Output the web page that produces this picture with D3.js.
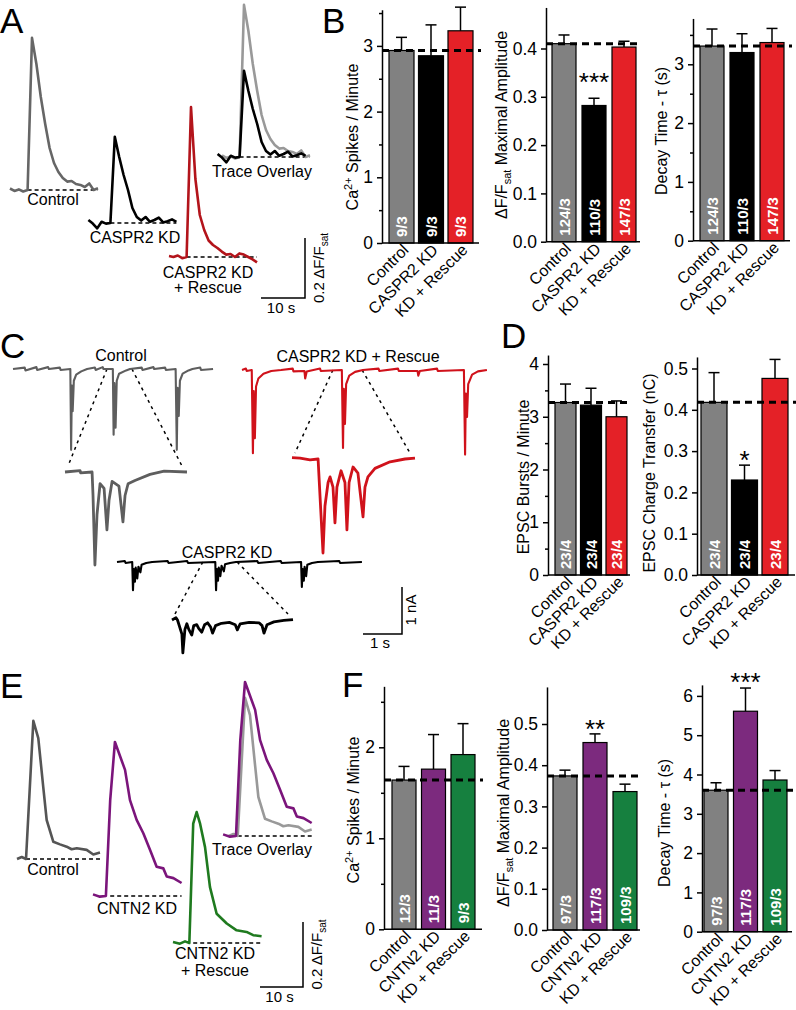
<!DOCTYPE html>
<html><head><meta charset="utf-8">
<script src="https://cdn.jsdelivr.net/npm/d3@7"></script>
<style>
body{margin:0;background:#fff;}
svg{display:block;font-family:"Liberation Sans",Arial,sans-serif;}
</style></head><body>
<script>
// ---------------- DATA ----------------
const groupsCaspr = ["Control", "CASPR2 KD", "KD + Rescue"];
const groupsCntn = ["Control", "CNTN2 KD", "KD + Rescue"];

// Panel B
const spikesB = [2.93, 2.85, 3.23];
const spikesBErr = [0.20, 0.47, 0.36];
const spikesBN = ["9/3", "9/3", "9/3"];
const ampB = [0.410, 0.282, 0.403];
const ampBErr = [0.018, 0.015, 0.012];
const ampBN = ["124/3", "110/3", "147/3"];
const ampBSig = ["", "***", ""];
const decayB = [3.31, 3.20, 3.37];
const decayBErr = [0.29, 0.32, 0.24];
const decayBN = ["124/3", "110/3", "147/3"];

// Panel D
const burstsD = [3.27, 3.22, 3.00];
const burstsDErr = [0.35, 0.32, 0.30];
const burstsDN = ["23/4", "23/4", "23/4"];
const chargeD = [0.418, 0.230, 0.476];
const chargeDErr = [0.072, 0.036, 0.046];
const chargeDN = ["23/4", "23/4", "23/4"];
const chargeDSig = ["", "*", ""];

// Panel F
const spikesF = [1.64, 1.76, 1.92];
const spikesFErr = [0.15, 0.38, 0.34];
const spikesFN = ["12/3", "11/3", "9/3"];
const ampF = [0.374, 0.455, 0.336];
const ampFErr = [0.014, 0.021, 0.018];
const ampFN = ["97/3", "117/3", "109/3"];
const ampFSig = ["", "**", ""];
const decayF = [3.60, 5.61, 3.86];
const decayFErr = [0.19, 0.59, 0.24];
const decayFN = ["97/3", "117/3", "109/3"];
const decayFSig = ["", "***", ""];

// Panel A Ca2+ traces: [time (s), dF/Fsat]
const caControlA = [[0,0.005],[1,-0.003],[2,0.002],[3,-0.005],[4,0],[5,0.507],[6,0.42],[7,0.31],[8,0.22],[9,0.14],[10,0.09],[11,0.06],[12,0.04],[13,0.028],[14,0.03],[15,0.02],[16,0.017],[17,0.01],[18,0.022],[19,0],[20,0.006]];
const caKdA = [[0,0.01],[1,-0.002],[2,-0.018],[3,0.004],[4,-0.002],[5,0],[6,0.287],[7,0.22],[8,0.16],[9,0.11],[10,0.05],[11,0.02],[12,0.008],[13,0.02],[14,0.004],[15,0.01],[16,0.018],[17,0.002],[18,0.006],[19,0.012],[20,0.004]];
const caRescueA = [[0,0.003],[1,0],[2,0.005],[3,-0.004],[4,0],[5,0.5],[6,0.26],[7,0.14],[8,0.09],[9,0.055],[10,0.04],[11,0.03],[12,0.018],[13,0.008],[14,0.01],[15,0],[16,0.012],[17,0.008],[18,0],[19,-0.008],[20,-0.018]];

// Panel E Ca2+ traces
const caControlE = [[0,0],[1.1,0.006],[2.1,0],[3.8,0.425],[4.95,0.372],[6.1,0.222],[6.9,0.12],[8.45,0.053],[10,0.045],[11.55,0.038],[12.7,0.03],[13.9,0.033],[16.2,0.028],[17.75,0.014],[19.3,0.02]];
const caKdE = [[0,0.005],[1.6,-0.002],[3.0,0],[4.0,0.295],[5.1,0.474],[6.3,0.43],[7.45,0.388],[8.6,0.295],[10.15,0.234],[11.7,0.193],[13.25,0.142],[14.8,0.09],[16.35,0.085],[17.15,0.06],[18.7,0.055],[20.6,0.04]];
const caRescueE = [[0,0.003],[1.6,-0.002],[2.8,0.005],[3.8,0],[4.7,0.367],[5.5,0.403],[6.3,0.367],[7.45,0.295],[8.6,0.172],[10.15,0.09],[12.5,0.06],[14.8,0.039],[17.1,0.034],[18.65,0.024],[20.6,0.021]];

// Panel C EPSC traces: overview [time (s), current (nA)], insets [time (ms), current (nA)]
const epscControl = [[0,0],[0.3,0.03],[0.32,-0.03],[0.6,0.04],[0.62,-0.02],[0.9,0.04],[0.92,0],[1.2,0.03],[1.22,-0.02],[1.47,0],[1.49,-1.72],[1.51,-0.35],[1.53,-0.9],[1.56,-0.25],[1.62,-0.12],[1.75,-0.05],[1.9,0],[2.1,0.03],[2.12,-0.02],[2.3,0.04],[2.32,0],[2.56,0],[2.58,-1.4],[2.6,-0.3],[2.63,-1.25],[2.66,-0.25],[2.72,-0.1],[2.9,-0.03],[3.0,0],[3.3,0.03],[3.32,-0.02],[3.6,0.04],[3.62,0],[3.9,0.03],[3.92,-0.02],[4.17,0],[4.2,-1.72],[4.22,-0.4],[4.25,-1.0],[4.28,-0.25],[4.35,-0.1],[4.5,-0.03],[4.6,0],[4.8,0.03],[4.82,-0.02],[5.13,0]];
const epscRescue = [[0,0],[0.1,0.03],[0.12,-0.02],[0.25,0],[0.28,-1.77],[0.3,-0.45],[0.33,-1.45],[0.36,-0.35],[0.42,-0.18],[0.55,-0.08],[0.75,-0.02],[1.0,0],[1.3,0.03],[1.32,-0.03],[1.6,-0.02],[1.62,-0.18],[1.66,-0.03],[2.0,0.03],[2.02,-0.02],[2.56,0],[2.59,-1.66],[2.61,-0.4],[2.64,-1.15],[2.67,-0.3],[2.75,-0.12],[2.9,-0.04],[3.1,0],[3.5,0.03],[3.52,-0.02],[4.0,0.03],[4.02,-0.02],[4.5,-0.02],[4.52,-0.12],[4.56,-0.02],[5.0,0.03],[5.02,-0.02],[5.69,0],[5.72,-1.8],[5.74,-0.5],[5.77,-1.0],[5.8,-0.3],[5.9,-0.1],[6.05,-0.03],[6.28,0]];
const epscKd = [[0,0],[0.2,0.02],[0.22,-0.02],[0.39,0],[0.41,-0.6],[0.43,-0.15],[0.46,-0.42],[0.48,-0.12],[0.52,-0.35],[0.55,-0.1],[0.6,-0.22],[0.63,-0.06],[0.75,-0.02],[0.9,0],[1.3,0.02],[1.32,-0.02],[1.8,0.02],[1.82,-0.02],[2.52,0],[2.54,-0.6],[2.56,-0.15],[2.59,-0.4],[2.61,-0.12],[2.65,-0.3],[2.68,-0.08],[2.74,-0.2],[2.77,-0.05],[2.9,-0.02],[3.05,0],[3.6,0.02],[3.62,-0.02],[4.2,0.02],[4.22,-0.02],[4.72,0],[4.74,-0.53],[4.76,-0.15],[4.79,-0.4],[4.81,-0.1],[4.85,-0.3],[4.88,-0.06],[5.0,-0.02],[5.15,0],[5.7,0.02],[5.72,-0.02],[6.28,0]];
const windowControl = [2.41, 3.05];
const windowRescue = [2.33, 3.08];
const windowKd = [2.20, 3.08];
const insetControl = [[0,0],[79,0.03],[82,-0.02],[142,0],[147,-0.5],[157,-1.98],[168,-0.9],[184,-0.25],[205,-0.35],[220,-1.23],[231,-0.6],[247,-0.2],[283,-0.3],[304,-1.06],[315,-0.5],[331,-0.25],[367,-0.18],[446,-0.05],[520,0.02],[640,0]];
const insetRescue = [[0,0.03],[49,0.02],[110,-0.02],[159,0],[171,-0.8],[189,-2.0],[201,-1.0],[220,-0.5],[232,-0.38],[250,-0.6],[262,-1.36],[274,-0.6],[299,-0.25],[323,-0.5],[335,-1.51],[348,-0.5],[372,-0.17],[402,-0.3],[433,-1.23],[445,-0.6],[463,-0.38],[506,-0.2],[598,-0.06],[689,0],[750,0.02]];
const insetKd = [[0,0],[29,0.05],[40,0],[72,-0.3],[79,-0.7],[94,-0.2],[108,-0.08],[122,-0.2],[144,-0.32],[158,-0.12],[180,-0.1],[194,-0.18],[216,-0.26],[237,-0.1],[259,-0.06],[281,-0.15],[295,-0.28],[317,-0.12],[360,-0.07],[417,-0.05],[460,-0.1],[475,-0.21],[496,-0.08],[561,-0.05],[633,-0.06],[655,-0.12],[669,-0.28],[691,-0.1],[741,-0.04],[813,-0.01],[880,0.01]];

// ---------------- DRAWING ----------------
const FONT = '"Liberation Sans", Arial, sans-serif';
const NARROW = '"Liberation Sans Narrow", "Arial Narrow", "Liberation Sans", sans-serif';
const svg = d3.select("body").append("svg").attr("width", 796).attr("height", 1010);

function panelLetter(t, x, y) {
  svg.append("text").attr("x", x).attr("y", y).attr("font-size", 35).attr("font-family", FONT).text(t);
}

function title(g, x, y, parts) {
  const t = g.append("text").attr("transform", `translate(${x},${y}) rotate(-90)`)
    .attr("text-anchor", "middle").attr("font-size", 16).attr("font-family", FONT);
  parts.forEach(p => {
    const s = t.append("tspan").text(p.t);
    if (p.dy) s.attr("dy", p.dy);
    if (p.fs) s.attr("font-size", p.fs);
  });
}

function barChart(o) {
  const g = svg.append("g");
  const y = d3.scaleLinear().domain([0, o.max]).range([o.y0, o.y0 - o.max * o.ppu]);
  const pad = (o.step - o.w) / o.step;
  const r0 = o.x0 - (o.step - o.w) / 2;
  const x = d3.scaleBand().domain(o.groups).range([r0, r0 + o.groups.length * o.step])
    .paddingInner(pad).paddingOuter(pad / 2);
  g.selectAll("rect.bar").data(o.groups).join("rect")
    .attr("x", d => x(d)).attr("width", x.bandwidth())
    .attr("y", (d, i) => y(o.values[i])).attr("height", (d, i) => o.y0 - y(o.values[i]))
    .attr("fill", (d, i) => o.colors[i]).attr("stroke", "#000").attr("stroke-width", 1.2);
  o.groups.forEach((d, i) => {
    const cx = x(d) + x.bandwidth() / 2;
    const top = y(o.values[i] + o.errs[i]);
    g.append("line").attr("x1", cx).attr("x2", cx).attr("y1", y(o.values[i])).attr("y2", top)
      .attr("stroke", "#000").attr("stroke-width", 1.5);
    g.append("line").attr("x1", cx - 5.5).attr("x2", cx + 5.5).attr("y1", top).attr("y2", top)
      .attr("stroke", "#000").attr("stroke-width", 1.5);
    if (o.sig && o.sig[i]) {
      g.append("text").attr("x", cx).attr("y", top + o.starDy).attr("text-anchor", "middle")
        .attr("font-size", 26).attr("font-family", FONT).text(o.sig[i]);
    }
    g.append("text").attr("transform", `translate(${cx + 5.5},${o.y0 - 6}) rotate(-90)`)
      .attr("font-size", 15).attr("font-weight", "bold").attr("font-family", NARROW)
      .attr("fill", "#fff").text(o.n[i]);
    g.append("text").attr("transform", `translate(${cx + 8},${o.y0 + 8}) rotate(-45)`)
      .attr("text-anchor", "end").attr("font-size", 16).attr("font-family", FONT).text(d);
  });
  g.append("line").attr("x1", o.axisX).attr("x2", o.dashEnd)
    .attr("y1", y(o.values[0])).attr("y2", y(o.values[0]))
    .attr("stroke", "#000").attr("stroke-width", 3).attr("stroke-dasharray", "7,5");
  g.append("line").attr("x1", o.axisX).attr("x2", o.axisEnd).attr("y1", o.y0).attr("y2", o.y0)
    .attr("stroke", "#000").attr("stroke-width", 1.5);
  const ax = g.append("g").attr("transform", `translate(${o.axisX},0)`)
    .call(d3.axisLeft(y).tickValues(o.major).tickFormat(d3.format(o.fmt)).tickSize(5).tickPadding(4).tickSizeOuter(0));
  ax.attr("font-family", FONT).attr("font-size", 17.5);
  ax.select(".domain").attr("stroke-width", 1.5);
  ax.selectAll(".tick line").attr("stroke-width", 1.5);
  if (o.minor) {
    const mx = g.append("g").attr("transform", `translate(${o.axisX},0)`)
      .call(d3.axisLeft(y).tickValues(o.minor).tickFormat("").tickSize(3).tickSizeOuter(0));
    mx.select(".domain").remove();
    mx.selectAll(".tick line").attr("stroke-width", 1.5);
  }
  title(g, o.titleX, o.titleY, o.title);
}

const GRAY = "#818181", BLACK = "#000", RED = "#e42127", PURPLE = "#7c2a7e", GREEN = "#16803f";
const tSpikes = [{t: "Ca"}, {t: "2+", dy: -6, fs: 11}, {t: " Spikes / Minute", dy: 6}];
const tAmp = [{t: "\u0394F/F"}, {t: "sat", dy: 4, fs: 11}, {t: " Maximal Amplitude", dy: -4}];
const tDecay = [{t: "Decay Time -  \u03c4 (s)"}];

barChart({groups: groupsCaspr, values: spikesB, errs: spikesBErr, n: spikesBN, colors: [GRAY, BLACK, RED],
  axisX: 382, y0: 243, ppu: 65.7, max: 3.55, major: [0,1,2,3], minor: [0.5,1.5,2.5,3.5], fmt: "d",
  x0: 389, w: 25, step: 29.5, axisEnd: 479, dashEnd: 481, titleX: 358, titleY: 137, title: tSpikes});
barChart({groups: groupsCaspr, values: ampB, errs: ampBErr, n: ampBN, colors: [GRAY, BLACK, RED], sig: ampBSig, starDy: -7,
  axisX: 546, y0: 241.7, ppu: 483, max: 0.485, major: [0,0.1,0.2,0.3,0.4], fmt: ".1f",
  x0: 552, w: 24, step: 30, axisEnd: 640, dashEnd: 641, titleX: 507, titleY: 125, title: tAmp});
barChart({groups: groupsCaspr, values: decayB, errs: decayBErr, n: decayBN, colors: [GRAY, BLACK, RED],
  axisX: 693, y0: 240.7, ppu: 58.8, max: 3.78, major: [0,1,2,3], minor: [0.5,1.5,2.5,3.5], fmt: "d",
  x0: 700, w: 24, step: 30, axisEnd: 790, dashEnd: 792, titleX: 667, titleY: 131, title: tDecay});
barChart({groups: groupsCaspr, values: burstsD, errs: burstsDErr, n: burstsDN, colors: [GRAY, BLACK, RED],
  axisX: 548, y0: 575, ppu: 52.75, max: 4.17, major: [0,1,2,3,4], minor: [0.5,1.5,2.5,3.5], fmt: "d",
  x0: 555, w: 21, step: 25.5, axisEnd: 630, dashEnd: 631, titleX: 529, titleY: 477, title: [{t: "EPSC Bursts / Minute"}]});
barChart({groups: groupsCaspr, values: chargeD, errs: chargeDErr, n: chargeDN, colors: [GRAY, BLACK, RED], sig: chargeDSig, starDy: 4,
  axisX: 697, y0: 575, ppu: 413, max: 0.528, major: [0,0.1,0.2,0.3,0.4,0.5], fmt: ".1f",
  x0: 701, w: 26, step: 30.5, axisEnd: 795, dashEnd: 796, titleX: 655, titleY: 473, title: [{t: "EPSC Charge Transfer (nC)"}]});
barChart({groups: groupsCntn, values: spikesF, errs: spikesFErr, n: spikesFN, colors: [GRAY, PURPLE, GREEN],
  axisX: 384, y0: 929.3, ppu: 91, max: 2.67, major: [0,1,2], minor: [0.5,1.5,2.5], fmt: "d",
  x0: 392, w: 24, step: 29.5, axisEnd: 482, dashEnd: 483, titleX: 359, titleY: 810, title: tSpikes});
barChart({groups: groupsCntn, values: ampF, errs: ampFErr, n: ampFN, colors: [GRAY, PURPLE, GREEN], sig: ampFSig, starDy: 4,
  axisX: 547, y0: 930, ppu: 412, max: 0.59, major: [0,0.1,0.2,0.3,0.4,0.5], fmt: ".1f",
  x0: 553, w: 24, step: 30, axisEnd: 640, dashEnd: 642, titleX: 509, titleY: 813, title: tAmp});
barChart({groups: groupsCntn, values: decayF, errs: decayFErr, n: decayFN, colors: [GRAY, PURPLE, GREEN], sig: decayFSig, starDy: 3,
  axisX: 702, y0: 931.7, ppu: 39.3, max: 6.28, major: [0,1,2,3,4,5,6], fmt: "d",
  x0: 704, w: 24, step: 29.5, axisEnd: 792, dashEnd: 793, titleX: 670, titleY: 823, title: tDecay});

// ---- Ca traces ----
function caTrace(data, x0, yBase, pxSec, pxUnit, color, dashed) {
  const x = d3.scaleLinear().domain([0, 1]).range([x0, x0 + pxSec]);
  const y = d3.scaleLinear().domain([0, 1]).range([yBase, yBase - pxUnit]);
  if (dashed) {
    const iMax = d3.maxIndex(data, d => d[1]);
    svg.append("line").attr("x1", x(data[iMax - 1][0])).attr("x2", x(data[data.length - 1][0]))
      .attr("y1", y(0)).attr("y2", y(0)).attr("stroke", "#000").attr("stroke-width", 1.5).attr("stroke-dasharray", "4,3");
  }
  svg.append("path").datum(data).attr("d", d3.line().x(d => x(d[0])).y(d => y(d[1])))
    .attr("fill", "none").attr("stroke", color).attr("stroke-width", 2.6).attr("stroke-linejoin", "round");
}
function label(x, y, t, size) {
  svg.append("text").attr("x", x).attr("y", y).attr("text-anchor", "middle")
    .attr("font-size", size || 16).attr("font-family", FONT).text(t);
}

// Panel A
caTrace(caControlA, 10, 190, 4.4, 300, "#666", true);
caTrace(caKdA, 88.4, 223, 4.4, 300, "#000", true);
caTrace(caRescueA, 169, 257, 4.4, 300, "#b3141b", true);
caTrace(caControlA, 222, 157, 4.4, 300, "#999", true);
caTrace(caKdA, 217.6, 157, 4.4, 300, "#000", false);
label(53, 205, "Control");
label(135, 243, "CASPR2 KD");
label(208, 278, "CASPR2 KD");
label(208, 293, "+ Rescue");
label(262, 177, "Trace Overlay");

// Panel E
caTrace(caControlE, 17, 859, 4.3, 325, "#555", true);
caTrace(caKdE, 93, 896, 4.3, 325, "#7b157b", true);
caTrace(caRescueE, 173, 943, 4.3, 325, "#1f7a1f", true);
caTrace(caControlE, 228.7, 836, 4.3, 325, "#999", true);
caTrace(caKdE, 223.1, 836, 4.3, 325, "#7b157b", false);
label(53, 875, "Control");
label(137, 914, "CNTN2 KD");
label(215, 959, "CNTN2 KD");
label(215, 976, "+ Rescue");
label(262, 855, "Trace Overlay");

function caScale(xr, yTop, yBot, xl) {
  svg.append("path").attr("d", `M${xl},${yBot}H${xr}V${yTop}`).attr("fill", "none").attr("stroke", "#000").attr("stroke-width", 1.5);
  label((xl + xr) / 2 - 2, yBot + 15, "10 s", 15);
  const t = svg.append("text").attr("transform", `translate(${xr + 19},${(yTop + yBot) / 2}) rotate(-90)`)
    .attr("text-anchor", "middle").attr("font-size", 15).attr("font-family", FONT);
  t.append("tspan").text("0.2 \u0394F/F");
  t.append("tspan").attr("dy", 4).attr("font-size", 10).text("sat");
}
caScale(305, 238, 298, 261);
caScale(303, 922, 987, 260);

// ---- Panel C EPSC ----
function epsc(data, win, x0, yBase, inset, color) {
  const x = d3.scaleLinear().domain([0, 1]).range([x0, x0 + 39]);
  const y = d3.scaleLinear().domain([0, 1]).range([yBase, yBase - 47]);
  const durMs = (win[1] - win[0]) * 1000;
  const xi = d3.scaleLinear().domain([0, durMs]).range([inset.x0, inset.x0 + inset.w]);
  const yi = d3.scaleLinear().domain([0, 1]).range([inset.base, inset.base - 47]);
  [[win[0], 0, 3], [win[1], durMs, -5]].forEach(([tw, ti, off]) => {
    svg.append("line").attr("x1", x(tw)).attr("y1", y(0)).attr("x2", xi(ti) + off).attr("y2", yi(0) - 6)
      .attr("stroke", "#000").attr("stroke-width", 1.5).attr("stroke-dasharray", "3,4");
  });
  svg.append("path").datum(data).attr("d", d3.line().x(d => x(d[0])).y(d => y(d[1])))
    .attr("fill", "none").attr("stroke", color).attr("stroke-width", 2.1).attr("stroke-linejoin", "round");
  svg.append("path").datum(inset.data).attr("d", d3.line().x(d => xi(d[0])).y(d => yi(d[1])))
    .attr("fill", "none").attr("stroke", color).attr("stroke-width", 2.8).attr("stroke-linejoin", "round");
}
epsc(epscControl, windowControl, 13, 369, {x0: 65, w: 122, base: 472, data: insetControl}, "#5e5e5e");
epsc(epscRescue, windowRescue, 242, 370, {x0: 292, w: 123, base: 459, data: insetRescue}, "#d0121b");
epsc(epscKd, windowKd, 117, 562, {x0: 172, w: 121, base: 620, data: insetKd}, "#000");
label(121, 361, "Control");
label(358, 362, "CASPR2 KD + Rescue");
label(227, 558, "CASPR2 KD");
svg.append("path").attr("d", "M363,634H402V587").attr("fill", "none").attr("stroke", "#000").attr("stroke-width", 1.5);
label(380, 648, "1 s", 15);
svg.append("text").attr("transform", "translate(416,610) rotate(-90)").attr("text-anchor", "middle")
  .attr("font-size", 15).attr("font-family", FONT).text("1 nA");

panelLetter("A", 0, 33);
panelLetter("B", 322, 33);
panelLetter("C", 0, 358);
panelLetter("D", 501, 348);
panelLetter("E", 0, 698);
panelLetter("F", 342, 697);
</script></body></html>
